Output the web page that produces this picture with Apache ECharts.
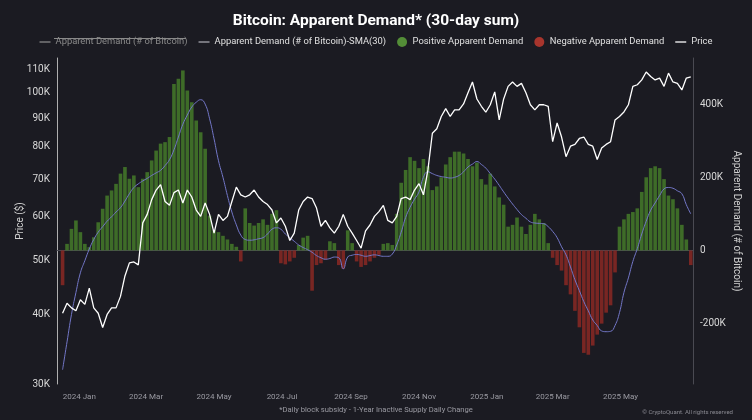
<!DOCTYPE html>
<html>
<head>
<meta charset="utf-8">
<script src="https://cdn.jsdelivr.net/npm/echarts@6/dist/echarts.min.js"></script>
<style>
html, body { margin: 0; padding: 0; background: #1b1b22; }
#chart { width: 752px; height: 420px; }
</style>
</head>
<body>
<div id="chart"></div>
<script>
// one sample every 4 days, first one on 2023-12-17
const stepDays = 4;

// BTC price ($)
const price = [
  40200, 41900, 41100, 40600, 42500, 41700, 44600, 41100, 40200, 37900,
  40000, 41100, 41100, 43100, 46900, 49500, 49700, 49100, 58400, 60500,
  64300, 66900, 68400, 63800, 62800, 66200, 66900, 63400, 66900, 65000,
  61600, 60000, 63400, 60500, 56000, 60500, 59000, 60000, 63800, 67700,
  65600, 65000, 65600, 66900, 65000, 63800, 63000, 61600, 58400, 59600,
  57600, 54300, 56000, 61600, 63800, 65000, 64600, 62100, 57600, 59000,
  57200, 56000, 57600, 60500, 57600, 56000, 54300, 52600, 56500, 57900,
  60000, 61200, 62800, 59000, 58400, 60000, 64600, 65000, 64300, 66900,
  68700, 65600, 72700, 84600, 86200, 90700, 93700, 90700, 93200, 93200,
  95500, 100000, 104600, 97500, 94600, 92300, 95200, 100400, 89400, 97500,
  102700, 104600, 102700, 104000, 100000, 95200, 93200, 95200, 95200, 94600,
  81700, 88300, 83300, 76800, 80200, 80800, 82800, 83300, 80800, 80200,
  75900, 79600, 80800, 81700, 89400, 90700, 92400, 95200, 102700, 103400,
  105500, 109000, 107000, 105500, 106300, 102700, 108500, 104600, 104000, 101200,
  106300, 106800
];

// apparent demand, 30-day sum (thousand BTC)
const demandK = [
  -95, 18, 59, 82, 50, 18, 9, 36, 77, 114,
  150, 164, 182, 210, 228, 196, 205, 173, 196, 214,
  246, 273, 292, 296, 310, 455, 469, 492, 437, 405,
  355, 323, 278, 95, 55, 50, 40, 30, 18, 10,
  -30, 115, 75, 68, 75, 85, 70, 100, 110, -35,
  -38, -30, -20, 15, 35, 40, -110, -40, -35, -25,
  25, 20, -40, -50, 55, 20, -30, -45, -40, -30,
  -20, -12, 18, 20, 15, 100, 185, 220, 255, 245,
  225, 250, 230, 165, 175, 200, 235, 255, 270, 270,
  265, 250, 230, 240, 195, 180, 210, 175, 145, 125,
  65, 70, 90, 65, 45, 70, 100, 85, 75, 20,
  -20, -40, -55, -95, -120, -165, -210, -280, -285, -260,
  -230, -200, -170, -150, -60, 65, 85, 100, 105, 115,
  160, 200, 225, 230, 225, 195, 150, 140, 115, 70,
  30, -40
];

// SMA(30) of apparent demand (thousand BTC)
const smaK = [
  -326, -250, -175, -115, -61, -28, 4, 30, 50, 65,
  80, 92, 105, 117, 135, 155, 172, 182, 190, 197,
  205, 212, 219, 232, 248, 275, 310, 345, 370, 392,
  405, 412, 400, 360, 305, 245, 200, 150, 105, 70,
  42, 30, 28, 29, 32, 35, 45, 58, 62, 58,
  45, 35, 25, 15, 8, 2, -5, -14, -20, -24,
  -22, -18, -20, -50, -18, -13, -11, -13, -16, -14,
  -12, -14, -16, -16, -10, 15, 50, 90, 118, 140,
  160, 200, 215, 210, 205, 202, 200, 198, 200, 205,
  215, 228, 236, 243, 235, 225, 210, 195, 178, 160,
  143, 127, 112, 98, 88, 78, 75, 74, 73, 65,
  52, 35, 10, -12, -45, -80, -110, -140, -165, -190,
  -205, -220, -222, -221, -205, -170, -115, -75, -30, 5,
  45, 80, 110, 130, 150, 168, 172, 170, 163, 155,
  125, 100
];

const monthTicks = ['2024-01', '2024-03', '2024-05', '2024-07', '2024-09', '2024-11', '2025-01', '2025-03', '2025-05'];
const priceTicks = [30000, 40000, 50000, 60000, 70000, 80000, 90000, 100000, 110000];
const demandTicks = [-200000, 0, 200000, 400000];
const monthNames = ['Jan', 'Feb', 'Mar', 'Apr', 'May', 'Jun', 'Jul', 'Aug', 'Sep', 'Oct', 'Nov', 'Dec'];

const dates = price.map(function (_, i) { return new Date(2023, 11, 17 + i * stepDays).getTime(); });
const monthVals = monthTicks.map(function (s) {
  const p = s.split('-');
  return new Date(+p[0], +p[1] - 1, 1).getTime();
});

const demandData = dates.map(function (d, i) { return [d, demandK[i] * 1000]; });
const posData = dates.map(function (d, i) { return [d, demandK[i] > 0 ? demandK[i] * 1000 : '-']; });
const negData = dates.map(function (d, i) { return [d, demandK[i] < 0 ? demandK[i] * 1000 : '-']; });
const smaData = dates.map(function (d, i) { return [d, smaK[i] * 1000]; });
const priceData = dates.map(function (d, i) { return [d, price[i]]; });

const chart = echarts.init(document.getElementById('chart'));
const FONT = 'Roboto';
const LINE_ICON = 'path://M0,0 L12,0 L12,1.4 L0,1.4 Z';

const option = {
  backgroundColor: '#1b1b22',
  animation: false,
  textStyle: { fontFamily: FONT },
  title: [{
    text: 'Bitcoin: Apparent Demand* (30-day sum)',
    left: 'center',
    top: 8,
    textStyle: { color: '#ffffff', fontSize: 15.5, fontWeight: 'bold', fontFamily: FONT }
  }, {
    text: '*Daily block subsidy - 1-Year Inactive Supply Daily Change',
    left: 'center',
    top: 401,
    textStyle: { color: '#9a9aa2', fontSize: 7.6, fontWeight: 'normal', fontFamily: FONT }
  }, {
    text: '\u00a9 CryptoQuant. All rights reserved',
    right: 14,
    top: 404,
    textStyle: { color: '#8a8a92', fontSize: 6, fontWeight: 'normal', fontFamily: FONT }
  }],
  legend: {
    top: 32,
    left: 'center',
    itemWidth: 11,
    itemHeight: 10,
    itemGap: 11,
    textStyle: { color: '#e0e0e0', fontSize: 9.4, fontFamily: FONT },
    inactiveColor: '#8a8a8a',
    selected: { 'Apparent Demand (# of Bitcoin)': false },
    data: [
      { name: 'Apparent Demand (# of Bitcoin)', icon: LINE_ICON },
      { name: 'Apparent Demand (# of Bitcoin)-SMA(30)', icon: LINE_ICON },
      { name: 'Positive Apparent Demand', icon: 'circle', itemStyle: { color: '#5a9a3a' } },
      { name: 'Negative Apparent Demand', icon: 'circle', itemStyle: { color: '#b8392f' } },
      { name: 'Price', icon: LINE_ICON }
    ]
  },
  // strike-through on the hidden legend entry
  graphic: [{
    type: 'line',
    shape: { x1: 54, y1: 38.5, x2: 186, y2: 38.5 },
    style: { stroke: '#8a8a8a', lineWidth: 1 },
    silent: true
  }],
  grid: { left: 57, right: 59, top: 58, bottom: 36 },
  xAxis: {
    type: 'value',
    min: new Date(2023, 11, 12).getTime(),
    max: new Date(2025, 6, 5).getTime(),
    axisLine: { lineStyle: { color: '#4a4a52' } },
    axisTick: { show: false },
    splitLine: { show: false },
    axisLabel: {
      customValues: monthVals,
      color: '#9a9aa2',
      fontSize: 8,
      margin: 9,
      formatter: function (v) {
        const d = new Date(v);
        return d.getFullYear() + ' ' + monthNames[d.getMonth()];
      }
    }
  },
  yAxis: [{
    type: 'log',
    min: 30000,
    max: 115500,
    name: 'Price ($)',
    nameLocation: 'middle',
    nameGap: 32,
    nameMoveOverlap: false,
    nameTextStyle: { color: '#d0d0d0', fontSize: 10 },
    axisLine: { show: true, lineStyle: { color: '#b0b0b0' } },
    axisTick: { show: false },
    splitLine: { show: false },
    axisLabel: {
      customValues: priceTicks,
      color: '#d8d8d8',
      fontSize: 10,
      margin: 7,
      formatter: function (v) { return Math.round(v / 1000) + 'K'; }
    }
  }, {
    type: 'value',
    min: -365000,
    max: 526000,
    name: 'Apparent Demand (# of Bitcoin)',
    nameLocation: 'middle',
    nameRotate: -90,
    nameGap: 38,
    nameMoveOverlap: false,
    nameTextStyle: { color: '#d0d0d0', fontSize: 10 },
    position: 'right',
    axisLine: { show: true, lineStyle: { color: '#4a4a52' } },
    axisTick: { show: false },
    splitLine: { show: false },
    axisLabel: {
      customValues: demandTicks,
      color: '#d8d8d8',
      fontSize: 10,
      margin: 7,
      formatter: function (v) { return v === 0 ? '0' : Math.round(v / 1000) + 'K'; }
    }
  }],
  series: [{
    name: 'Apparent Demand (# of Bitcoin)',
    type: 'line',
    yAxisIndex: 1,
    symbol: 'none',
    color: '#8a8a8a',
    lineStyle: { width: 1 },
    data: demandData
  }, {
    name: 'Positive Apparent Demand',
    type: 'bar',
    yAxisIndex: 1,
    barWidth: 3.6,
    barGap: '-100%',
    itemStyle: { color: '#437529', opacity: 0.9 },
    data: posData
  }, {
    name: 'Negative Apparent Demand',
    type: 'bar',
    yAxisIndex: 1,
    barWidth: 3.6,
    barGap: '-100%',
    itemStyle: { color: '#842824', opacity: 0.9 },
    data: negData
  }, {
    name: 'Apparent Demand (# of Bitcoin)-SMA(30)',
    type: 'line',
    yAxisIndex: 1,
    symbol: 'none',
    smooth: true,
    color: '#a8a8b0',
    lineStyle: { width: 1, color: '#7377c8' },
    data: smaData,
    z: 3
  }, {
    name: 'Price',
    type: 'line',
    yAxisIndex: 0,
    symbol: 'none',
    color: '#ffffff',
    lineStyle: { width: 1.3, color: '#ffffff' },
    data: priceData,
    z: 4
  }]
};

chart.setOption(option);
</script>
</body>
</html>
